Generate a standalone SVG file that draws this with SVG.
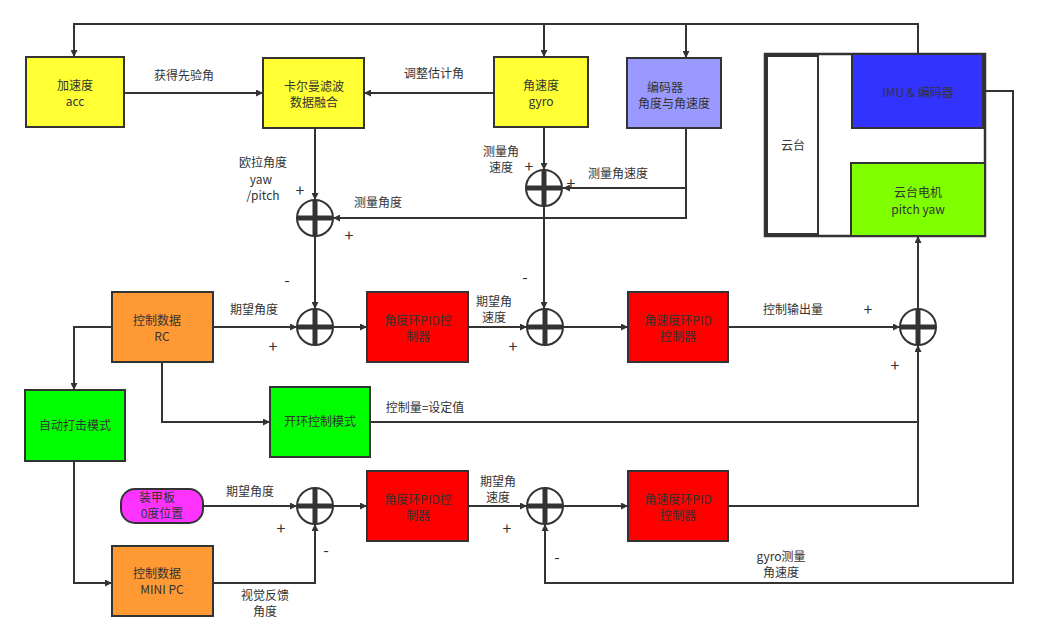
<svg xmlns="http://www.w3.org/2000/svg" width="1037" height="641" viewBox="0 0 1037 641">
<style>
.b{stroke:#333;stroke-width:2}
.l{fill:none;stroke:#333;stroke-width:2}
.la{fill:none;stroke:#333;stroke-width:2;marker-end:url(#a)}
text{font-family:"Noto Sans CJK SC","Liberation Sans",sans-serif;font-size:12px;fill:#333;text-anchor:middle}
.p{font-size:16px}
.s{fill:#fff;stroke:#333;stroke-width:2}
</style>
<defs>
<marker id="a" viewBox="0 0 10 10" refX="10" refY="5" markerWidth="7" markerHeight="7" orient="auto" markerUnits="userSpaceOnUse"><path d="M0,0L10,5L0,10z" fill="#333"/></marker>
<g id="sum"><circle r="18" class="s"/><path d="M-18,0H18M0,-18V18" stroke="#333" stroke-width="5"/></g>
</defs>
<g id="connectors">
<path class="la" d="M918,54V24H74V57"/>
<path class="la" d="M544,24V57"/>
<path class="la" d="M686,24V58"/>
<path class="la" d="M124,93H263"/>
<path class="la" d="M494,93H364"/>
<path class="la" d="M315,128V200"/>
<path class="la" d="M544,127V170"/>
<path class="la" d="M686,128V218H333"/>
<path class="la" d="M686,188H563"/>
<path class="la" d="M315,236V309"/>
<path class="la" d="M544,206V309"/>
<path class="la" d="M213,327H297"/>
<path class="la" d="M333,327H367"/>
<path class="la" d="M468,327H527"/>
<path class="la" d="M563,327H628"/>
<path class="la" d="M728,327H900"/>
<path class="la" d="M918,309V236"/>
<path class="la" d="M112,327H74V390"/>
<path class="la" d="M162,362V422H270"/>
<path class="la" d="M370,422H918V345"/>
<path class="l" d="M728,506H918V422"/>
<path class="la" d="M74,461V583H112"/>
<path class="la" d="M213,583H315V524"/>
<path class="la" d="M203,506H297"/>
<path class="la" d="M333,506H367"/>
<path class="la" d="M468,506H527"/>
<path class="la" d="M563,506H628"/>
<path class="la" d="M983,91H1013V583H545V524"/>
<path class="l" d="M983,128V163"/>
</g>
<g id="n-acc"><rect x="26" y="57" width="98" height="70" fill="#ffff33" class="b"/><text x="75" y="90">加速度</text><text x="75" y="106">acc</text></g>
<g id="n-kalman"><rect x="263" y="58" width="101" height="70" fill="#ffff33" class="b"/><text x="314" y="91">卡尔曼滤波</text><text x="314" y="107">数据融合</text></g>
<g id="n-gyro"><rect x="494" y="57" width="94" height="70" fill="#ffff33" class="b"/><text x="541" y="90">角速度</text><text x="541" y="106">gyro</text></g>
<g id="n-enc"><rect x="627" y="58" width="94" height="70" fill="#9999ff" class="b"/><text x="665" y="92">编码器</text><text x="674" y="108">角度与角速度</text></g>
<g id="n-gimbal"><rect x="765" y="54" width="220" height="182" fill="#fff" stroke="#333" stroke-width="2.5"/><rect x="767" y="56" width="51" height="178" fill="#fff" class="b"/><text x="793" y="150">云台</text></g>
<g id="n-imu"><rect x="852" y="54" width="131" height="74" fill="#3333ff" class="b"/><text x="918" y="97">IMU &amp; 编码器</text></g>
<g id="n-motor"><rect x="851" y="163" width="134" height="73" fill="#80ff00" class="b"/><text x="918" y="197">云台电机</text><text x="918" y="214">pitch yaw</text></g>
<g id="n-rc"><rect x="112" y="292" width="101" height="70" fill="#ff9933" class="b"/><text x="157" y="325">控制数据</text><text x="162" y="341">RC</text></g>
<g id="n-pid1"><rect x="367" y="292" width="101" height="70" fill="#ff0000" class="b"/><text x="418" y="325">角度环PID控</text><text x="418" y="341">制器</text></g>
<g id="n-vpid1"><rect x="628" y="292" width="100" height="70" fill="#ff0000" class="b"/><text x="678" y="325">角速度环PID</text><text x="678" y="341">控制器</text></g>
<g id="n-auto"><rect x="25" y="390" width="100" height="71" fill="#00ff00" class="b"/><text x="75" y="430">自动打击模式</text></g>
<g id="n-open"><rect x="270" y="387" width="100" height="70" fill="#00ff00" class="b"/><text x="320" y="426">开环控制模式</text></g>
<g id="n-armor"><rect x="121" y="489" width="82" height="34" rx="14" fill="#ff33ff" class="b"/><text x="157" y="502">装甲板</text><text x="162" y="518">0度位置</text></g>
<g id="n-pid2"><rect x="367" y="471" width="101" height="70" fill="#ff0000" class="b"/><text x="418" y="504">角度环PID控</text><text x="418" y="520">制器</text></g>
<g id="n-vpid2"><rect x="628" y="471" width="100" height="70" fill="#ff0000" class="b"/><text x="678" y="504">角速度环PID</text><text x="678" y="520">控制器</text></g>
<g id="n-mini"><rect x="112" y="546" width="101" height="70" fill="#ff9933" class="b"/><text x="157" y="578">控制数据</text><text x="162" y="594">MINI PC</text></g>
<g id="sums">
<use href="#sum" x="315" y="218"/><use href="#sum" x="544" y="188"/>
<use href="#sum" x="315" y="327"/><use href="#sum" x="545" y="327"/><use href="#sum" x="918" y="327"/>
<use href="#sum" x="315" y="506"/><use href="#sum" x="545" y="506"/>
</g>
<g id="labels">
<text x="184" y="80">获得先验角</text><text x="434" y="78">调整估计角</text>
<text x="263" y="167">欧拉角度</text><text x="261" y="184">yaw</text><text x="263" y="200">/pitch</text>
<text x="378" y="207">测量角度</text>
<text x="501" y="156">测量角</text><text x="501" y="172">速度</text>
<text x="618" y="178">测量角速度</text>
<text x="254" y="314">期望角度</text><text x="494" y="306">期望角</text><text x="494" y="322">速度</text>
<text x="793" y="314">控制输出量</text>
<text x="425" y="412">控制量=设定值</text>
<text x="250" y="496">期望角度</text><text x="498" y="486">期望角</text><text x="498" y="502">速度</text>
<text x="265" y="600">视觉反馈</text><text x="265" y="616">角度</text>
<text x="781" y="561">gyro测量</text><text x="781" y="577">角速度</text>
<text class="p" x="300" y="196">+</text><text class="p" x="349" y="241">+</text><text class="p" x="287" y="286">-</text>
<text class="p" x="529" y="172">+</text><text class="p" x="571" y="189">+</text><text class="p" x="525" y="283">-</text>
<text class="p" x="273" y="352">+</text><text class="p" x="513" y="352">+</text>
<text class="p" x="868" y="315">+</text><text class="p" x="895" y="371">+</text>
<text class="p" x="281" y="534">+</text><text class="p" x="507" y="534">+</text>
<text class="p" x="326" y="556">-</text><text class="p" x="557" y="563">-</text>
</g>
</svg>
